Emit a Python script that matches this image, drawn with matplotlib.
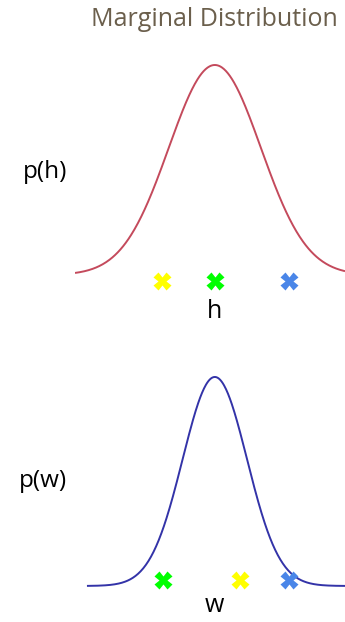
import numpy as np
import matplotlib.pyplot as plt

plt.rcParams['font.family'] = ['Open Sans', 'DejaVu Sans']

# marginal distributions (standardised units)
h_mean, h_sd = 0.0, 1.0
w_mean, w_sd = 0.0, 0.70
h_range = (-3.04, 2.83)
w_range = (-2.78, 2.83)

# sample points on each axis
point_colors = ['#ffff00', '#00ff00', '#4a86e8']   # yellow, green, blue
h_points = [-1.15, 0.0, 1.61]
w_points = [0.54, -1.13, 1.61]

W, H = 345, 622
fig = plt.figure(figsize=(W / 100, H / 100), dpi=100)

def panel(top_px, bot_px, mean, sd, xr, pts, color, marker_y, ylim):
    ax = fig.add_axes([75 / W, 1 - bot_px / H, 1 - 75 / W, (bot_px - top_px) / H])
    x = np.linspace(xr[0], xr[1], 400)
    y = np.exp(-0.5 * ((x - mean) / sd) ** 2)
    ax.plot(x, y, color=color, lw=1.4, solid_capstyle='butt')
    for c, p in zip(point_colors, pts):
        ax.plot(p, marker_y, marker='X', ms=12.5, color=c, mec='none')
    ax.set_xlim(-3.04, 2.83)
    ax.set_ylim(*ylim)
    ax.axis('off')
    return ax

panel(40, 300, h_mean, h_sd, h_range, h_points, '#c44a5c', -0.029, (-0.119, 1.119))
panel(350, 610, w_mean, w_sd, w_range, w_points, '#3333a8', 0.029, (-0.115, 1.129))

fig.text(214 / W, 1 - 20 / H, 'Marginal Distribution', ha='center', va='center',
         fontsize=18, color='#6b5f4c')
fig.text(45 / W, 1 - 172 / H, 'p(h)', ha='center', va='center', fontsize=17.5, color='black')
fig.text(214 / W, 1 - 311 / H, 'h', ha='center', va='center', fontsize=18, color='black')
fig.text(43 / W, 1 - 481 / H, 'p(w)', ha='center', va='center', fontsize=17.5, color='black')
fig.text(214 / W, 1 - 606 / H, 'w', ha='center', va='center', fontsize=18, color='black')

fig.savefig('out.png', dpi=100)
